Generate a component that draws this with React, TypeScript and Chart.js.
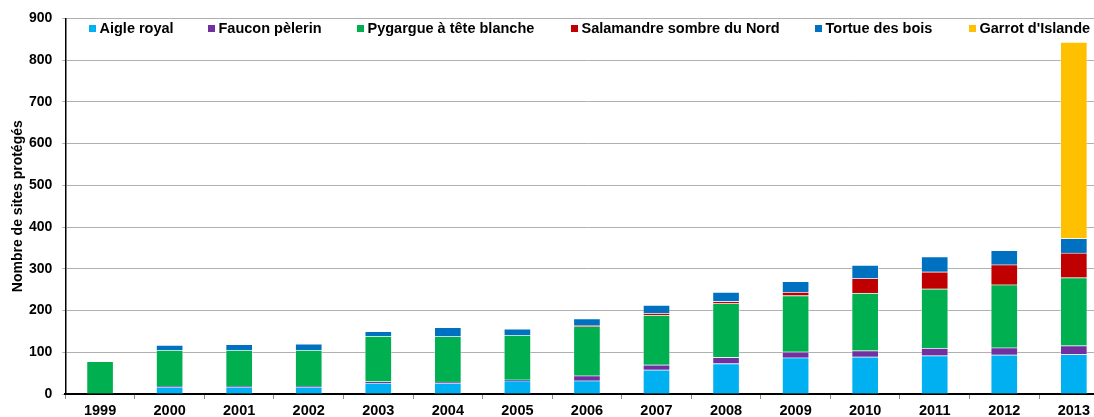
import React, { useEffect, useRef } from "react";
import { Chart, registerables } from "chart.js";

Chart.register(...registerables);

const years = ["1999", "2000", "2001", "2002", "2003", "2004", "2005", "2006", "2007", "2008", "2009", "2010", "2011", "2012", "2013"];
const aigleRoyal = [0, 17, 17, 17, 26, 26, 32, 32, 58, 73, 87, 89, 92, 94, 95];
const fauconPelerin = [0, 2, 2, 2, 4, 3, 2, 12, 12, 15, 14, 15, 18, 17, 21];
const pygargue = [78, 86, 86, 86, 109, 109, 107, 118, 119, 129, 135, 138, 142, 151, 163];
const salamandre = [0, 0, 0, 0, 0, 0, 0, 2, 5, 5, 8, 35, 41, 48, 59];
const tortue = [0, 12, 14, 15, 11, 22, 15, 17, 19, 22, 26, 32, 36, 34, 35];
const garrot = [0, 0, 0, 0, 0, 0, 0, 0, 0, 0, 0, 0, 0, 0, 470];

const seriesNames = ["Aigle royal", "Faucon pèlerin", "Pygargue à tête blanche", "Salamandre sombre du Nord", "Tortue des bois", "Garrot d'Islande"];
const seriesColors = ["#00B0F0", "#7030A0", "#00B050", "#C00000", "#0070C0", "#FFC000"];
const yTicks = [0, 100, 200, 300, 400, 500, 600, 700, 800, 900];
const yTitle = "Nombre de sites protégés";

const FONT = "'Liberation Sans', Arial, sans-serif";
const LEGEND_BOX_X = [89, 208, 357, 571, 815, 969];

const legendPlugin = {
  id: "customLegend",
  afterDraw(chart: any) {
    const ctx = chart.ctx;
    ctx.save();
    ctx.font = `bold 14.5px ${FONT}`;
    ctx.textBaseline = "alphabetic";
    ctx.textAlign = "left";
    chart.data.datasets.forEach((ds: any, i: number) => {
      const x = LEGEND_BOX_X[i];
      ctx.fillStyle = seriesColors[i];
      ctx.fillRect(x, 25, 7, 7);
      ctx.fillStyle = "#000";
      ctx.fillText(ds.label, x + 10.5, 32.5);
    });
    ctx.restore();
  },
};

export default function App() {
  const canvasRef = useRef<HTMLCanvasElement | null>(null);

  useEffect(() => {
    if (!canvasRef.current) return;
    const seriesData = [aigleRoyal, fauconPelerin, pygargue, salamandre, tortue, garrot];
    const chart = new Chart(canvasRef.current, {
      type: "bar",
      data: {
        labels: years,
        datasets: seriesData.map((d, i) => ({
          label: seriesNames[i],
          data: d,
          backgroundColor: (c: any) => (c.raw ? seriesColors[i] : "rgba(0,0,0,0)"),
          borderColor: (c: any) => (c.raw ? "rgba(255,255,255,0.35)" : "rgba(0,0,0,0)"),
          borderWidth: (c: any) => (c.raw ? 1 : 0),
          barThickness: 27,
        })),
      },
      options: {
        animation: false,
        responsive: false,
        devicePixelRatio: 1,
        layout: { padding: { top: 17, right: 3.4, left: 0, bottom: 0 } },
        plugins: {
          legend: { display: false },
          tooltip: { enabled: false },
        },
        scales: {
          x: {
            stacked: true,
            grid: { drawOnChartArea: false, tickLength: 5, color: "#8c8c8c" },
            border: { color: "#000", width: 2 },
            ticks: { color: "#000", font: { family: FONT, size: 14.5, weight: "bold" }, padding: 3.5, maxRotation: 0 },
            afterFit: (s: any) => { s.height = 23; },
          },
          y: {
            stacked: true,
            min: 0,
            max: 900,
            afterBuildTicks: (s: any) => { s.ticks = yTicks.map((v) => ({ value: v })); },
            grid: { color: "#b0b0b0", lineWidth: 1, tickLength: 3 },
            border: { color: "#000", width: 1.5 },
            ticks: { color: "#000", font: { family: FONT, size: 14, weight: "bold" }, padding: 10 },
            title: {
              display: true,
              text: yTitle,
              color: "#000",
              font: { family: FONT, size: 14, weight: "bold" },
              padding: { top: 10, bottom: 0 },
            },
            afterFit: (s: any) => { s.width = 65.3; },
          },
        },
      },
      plugins: [legendPlugin],
    } as any);
    return () => chart.destroy();
  }, []);

  return (
    <div style={{ position: "absolute", left: 0, top: 0, width: 1094, height: 417, overflow: "hidden", background: "#fff" }}>
      <canvas ref={canvasRef} width={1112} height={417} style={{ width: 1112, height: 417, display: "block" }} />
    </div>
  );
}
